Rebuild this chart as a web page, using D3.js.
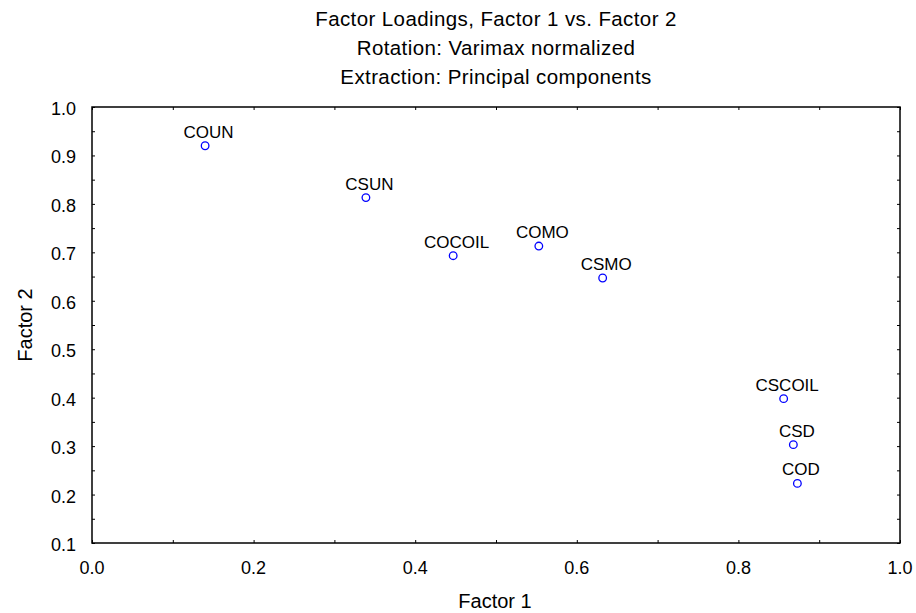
<!DOCTYPE html>
<html>
<head>
<meta charset="utf-8">
<script src="https://cdn.jsdelivr.net/npm/d3@7"></script>
<style>
  body { margin: 0; background: #fff; }
  text { font-family: "Liberation Sans", Arial, sans-serif; fill: #000; }
</style>
</head>
<body>
<div id="chart"></div>
<script>
// Datos
const names = ["COUN", "CSUN", "COCOIL", "COMO", "CSMO", "CSCOIL", "CSD", "COD"];
const factor1 = [0.140, 0.339, 0.447, 0.553, 0.632, 0.856, 0.868, 0.873];
const factor2 = [0.920, 0.813, 0.693, 0.713, 0.647, 0.398, 0.303, 0.223];
const xTicks = [0.0, 0.2, 0.4, 0.6, 0.8, 1.0];
const yTicks = [0.1, 0.2, 0.3, 0.4, 0.5, 0.6, 0.7, 0.8, 0.9, 1.0];
const titleLines = ["Factor Loadings, Factor 1 vs. Factor 2", "Rotation: Varimax normalized", "Extraction: Principal components"];

const width = 916, height = 613;
const margin = { left: 92, right: 16, top: 107, bottom: 70 };

const x = d3.scaleLinear().domain([0, 1]).range([margin.left, width - margin.right]);
const y = d3.scaleLinear().domain([0.1, 1]).range([height - margin.bottom, margin.top]);

const svg = d3.select("#chart").append("svg")
    .attr("width", width)
    .attr("height", height);

// Títulos
svg.append("g").selectAll("text")
    .data(titleLines)
    .enter().append("text")
    .attr("x", 496)
    .attr("y", (d, i) => 26 + i * 29)
    .attr("text-anchor", "middle")
    .attr("font-size", 20.5)
    .attr("letter-spacing", 0.4)
    .text(d => d);

// Ejes (ticks hacia dentro)
const xMinor = d3.range(0, 1.0001, 0.1);
const yMinor = d3.range(0.1, 1.0001, 0.05);

svg.append("g")
    .attr("transform", `translate(0,${y(0.1)})`)
    .call(d3.axisBottom(x).tickValues(xMinor).tickSize(-3).tickFormat(""))
    .call(g => g.select(".domain").remove());
svg.append("g")
    .attr("transform", `translate(${x(0)},0)`)
    .call(d3.axisLeft(y).tickValues(yMinor).tickSize(-3).tickFormat(""))
    .call(g => g.select(".domain").remove());
svg.append("g")
    .attr("transform", `translate(${x(1)},0)`)
    .call(d3.axisRight(y).tickValues(yMinor).tickSize(-3).tickFormat(""))
    .call(g => g.select(".domain").remove());
svg.append("g")
    .attr("transform", `translate(0,${y(1)})`)
    .call(d3.axisTop(x).tickValues(xMinor).tickSize(-3).tickFormat(""))
    .call(g => g.select(".domain").remove());

// Etiquetas de ticks
svg.append("g").selectAll("text")
    .data(xTicks)
    .enter().append("text")
    .attr("x", d => x(d))
    .attr("y", y(0.1) + 31)
    .attr("text-anchor", "middle")
    .attr("font-size", 18)
    .text(d => d3.format(".1f")(d));

svg.append("g").selectAll("text")
    .data(yTicks)
    .enter().append("text")
    .attr("x", x(0) - 16)
    .attr("y", d => y(d) + 8)
    .attr("text-anchor", "end")
    .attr("font-size", 18)
    .text(d => d3.format(".1f")(d));

// Marco
svg.append("rect")
    .attr("x", x(0))
    .attr("y", y(1))
    .attr("width", x(1) - x(0))
    .attr("height", y(0.1) - y(1))
    .attr("fill", "none")
    .attr("stroke", "#000")
    .attr("stroke-width", 1.5);

// Títulos de ejes
svg.append("text")
    .attr("x", 495)
    .attr("y", 608)
    .attr("text-anchor", "middle")
    .attr("font-size", 20)
    .text("Factor 1");

svg.append("text")
    .attr("transform", `translate(32,${(y(0.1) + y(1)) / 2}) rotate(-90)`)
    .attr("text-anchor", "middle")
    .attr("font-size", 20)
    .text("Factor 2");

// Puntos y etiquetas
const pts = names.map((n, i) => ({ name: n, f1: factor1[i], f2: factor2[i] }));

svg.append("g").selectAll("circle")
    .data(pts)
    .enter().append("circle")
    .attr("cx", d => x(d.f1))
    .attr("cy", d => y(d.f2))
    .attr("r", 3.8)
    .attr("fill", "none")
    .attr("stroke", "#0000ff")
    .attr("stroke-width", 1.3);

svg.append("g").selectAll("text")
    .data(pts)
    .enter().append("text")
    .attr("x", d => x(d.f1) + 3.5)
    .attr("y", d => y(d.f2) - 8)
    .attr("text-anchor", "middle")
    .attr("font-size", 17)
    .text(d => d.name);
</script>
</body>
</html>
